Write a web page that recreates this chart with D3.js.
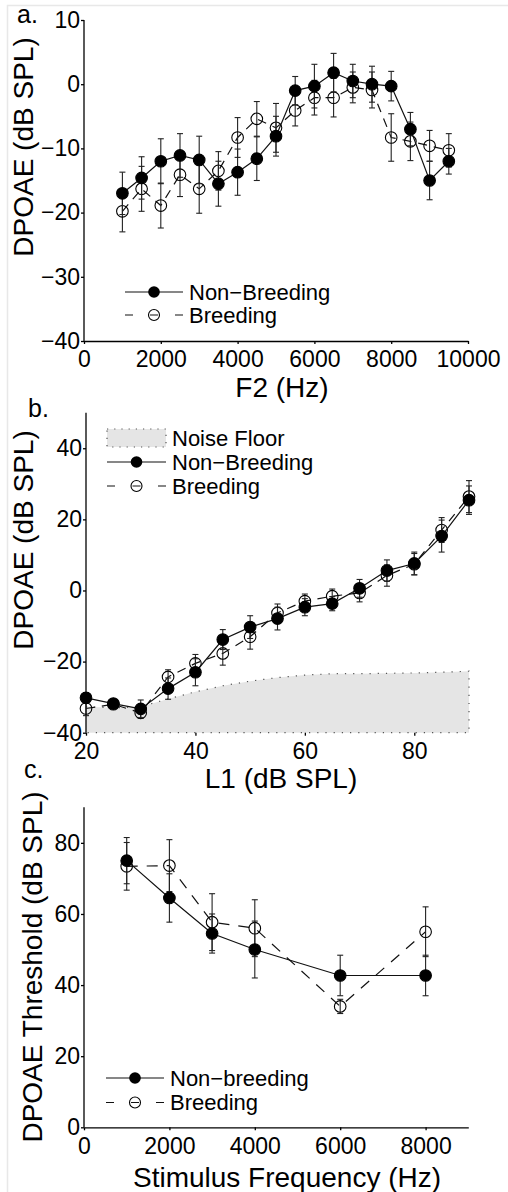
<!DOCTYPE html>
<html>
<head>
<meta charset="utf-8">
<script src="https://cdn.jsdelivr.net/npm/d3@7"></script>
<style>
  body { margin: 0; background: #fff; }
  svg { display: block; }
  text { font-family: "Liberation Sans", Arial, sans-serif; fill: #000; }
  .axis text { font-size: 23px; }
  .axis line, .axis path { stroke: #000; stroke-width: 1.3; }
</style>
</head>
<body>
<div id="chart"></div>
<script>
// ---- panel a: DPOAE vs F2 ----
const f2Hz = [1000, 1500, 2000, 2500, 3000, 3500, 4000, 4500, 5000, 5500, 6000, 6500, 7000, 7500, 8000, 8500, 9000, 9500];
const aNonBreed = [-17.0, -14.6, -12.0, -11.1, -11.8, -15.5, -13.7, -11.6, -8.1, -1.0, -0.3, 1.8, 0.5, 0.0, -0.3, -7.0, -15.0, -12.0];
const aNonBreedErr = [3.3, 3.3, 3.5, 3.4, 3.7, 3.5, 3.6, 3.4, 3.1, 2.2, 3.4, 3.0, 2.6, 2.8, 2.3, 2.6, 3.0, 2.0];
const aBreed = [-19.8, -16.3, -18.9, -14.1, -16.3, -13.5, -8.3, -5.4, -6.8, -4.1, -2.1, -2.1, -0.5, -0.9, -8.3, -8.9, -9.6, -10.3];
const aBreedErr = [3.2, 3.5, 3.5, 3.4, 3.8, 3.0, 3.1, 2.7, 3.8, 2.4, 2.7, 3.0, 2.4, 2.8, 3.7, 3.0, 2.4, 2.6];
const aXTicks = [0, 2000, 4000, 6000, 8000, 10000];
const aYTicks = [-40, -30, -20, -10, 0, 10];

// ---- panel b: DPOAE vs L1 ----
const l1 = [20, 25, 30, 35, 40, 45, 50, 55, 60, 65, 70, 75, 80, 85, 90];
const bNonBreed = [-30.2, -31.8, -33.3, -27.6, -23.0, -13.8, -10.3, -7.9, -4.7, -3.7, 0.6, 5.6, 7.6, 15.3, 25.4];
const bNonBreedErr = [1.5, 1.0, 2.5, 3.0, 3.8, 2.8, 3.2, 3.2, 2.4, 2.0, 2.5, 3.0, 3.2, 4.5, 4.0];
const bBreed = [-33.2, -32.0, -34.4, -24.3, -20.5, -17.7, -13.0, -6.3, -3.0, -1.6, -0.7, 4.2, 7.4, 17.0, 26.4];
const bBreedErr = [2.0, 1.0, 1.5, 2.0, 2.5, 3.3, 3.5, 2.5, 2.0, 2.0, 2.5, 3.0, 3.0, 3.5, 4.5];
const noiseFloor = [-32.7, -33.0, -32.7, -30.5, -28.5, -26.8, -25.5, -24.5, -23.8, -23.4, -23.4, -23.3, -23.2, -23.0, -22.7];
const bXTicks = [20, 40, 60, 80];
const bYTicks = [-40, -20, 0, 20, 40];

// ---- panel c: threshold vs stimulus frequency ----
const stimHz = [1000, 2000, 3000, 4000, 6000, 8000];
const cNonBreed = [75.0, 64.5, 54.5, 50.0, 42.7, 42.7];
const cNonBreedErr = [6.5, 6.8, 5.5, 8.0, 5.7, 5.7];
const cBreed = [73.4, 73.6, 57.7, 56.0, 34.0, 55.0];
const cBreedErr = [6.7, 7.3, 8.0, 8.0, 2.0, 7.0];
const cXTicks = [0, 2000, 4000, 6000, 8000];
const cYTicks = [0, 20, 40, 60, 80];

const W = 508, H = 1192;
const svg = d3.select("#chart").append("svg")
  .attr("width", W).attr("height", H);

svg.append("rect").attr("width", W).attr("height", H).attr("fill", "#fff");
// faint frame of the original scan
svg.append("path")
  .attr("d", "M7.5," + H + "V5.5H" + W)
  .attr("fill", "none").attr("stroke", "#e8e8e8").attr("stroke-width", 1.5);

const fmt = d3.format("d");

function zip(xs, ys, es) {
  return xs.map((x, i) => ({x: x, y: ys[i], e: es ? es[i] : 0}));
}

function drawPanel(p) {
  const g = svg.append("g");

  // noise floor (panel b only)
  if (p.noise) {
    const area = d3.area()
      .x(d => p.x(d.x)).y0(p.y(p.y.domain()[0])).y1(d => p.y(d.y));
    const pts = zip(p.noiseX, p.noise);
    g.append("path")
      .attr("d", area(pts))
      .attr("fill", "#e5e5e5");
    // dotted outline: top edge, right side, bottom
    const x0 = p.x(p.noiseX[0]);
    const yb = p.y(p.y.domain()[0]);
    g.append("path")
      .attr("d", d3.line().x(d => p.x(d.x)).y(d => p.y(d.y))(pts) + "V" + yb + "H" + x0)
      .attr("fill", "none").attr("stroke", "#555").attr("stroke-width", 1.2)
      .attr("stroke-dasharray", "1.2,7");
  }

  // axes
  const yAxis = g.append("g").attr("class", "axis")
    .attr("transform", "translate(" + p.x.range()[0] + ",0)")
    .call(d3.axisLeft(p.y).tickValues(p.yTicks).tickFormat(fmt)
      .tickSize(3).tickSizeOuter(0).tickPadding(1));
  yAxis.select(".domain").attr("d", "M0," + p.y.range()[0] + "V" + p.y.range()[1]);

  const xAxis = g.append("g").attr("class", "axis")
    .attr("transform", "translate(0," + p.y.range()[0] + ")")
    .call(d3.axisBottom(p.x).tickValues(p.xTicks).tickFormat(fmt)
      .tickSize(3).tickSizeOuter(0).tickPadding(7));
  if (p.noise) xAxis.select(".domain").remove();

  // axis titles
  g.append("text")
    .attr("x", p.xTitle.x).attr("y", p.xTitle.y)
    .attr("text-anchor", "middle").attr("font-size", 28)
    .text(p.xTitle.text);
  g.append("text")
    .attr("transform", "translate(" + p.yTitle.x + "," + p.yTitle.y + ") rotate(-90)")
    .attr("text-anchor", "middle").attr("font-size", 28)
    .text(p.yTitle.text);
  g.append("text")
    .attr("x", p.tag.x).attr("y", p.tag.y)
    .attr("font-size", 25)
    .text(p.tag.text);

  const line = d3.line().x(d => p.x(d.x)).y(d => p.y(d.y));

  // series: breeding (open, dashed) first, non-breeding (filled, solid) on top
  const series = [
    {data: zip(p.xs, p.breed, p.breedErr), dash: p.dash, fill: "none"},
    {data: zip(p.xs, p.nonBreed, p.nonBreedErr), dash: null, fill: "#000"}
  ];

  series.forEach(s => {
    g.append("path")
      .attr("d", line(s.data))
      .attr("fill", "none").attr("stroke", "#111").attr("stroke-width", 1.2)
      .attr("stroke-dasharray", s.dash);

    const eb = g.append("g").selectAll("g").data(s.data).enter().append("g")
      .attr("stroke", "#222").attr("stroke-width", 1.1);
    eb.append("line")
      .attr("x1", d => p.x(d.x)).attr("x2", d => p.x(d.x))
      .attr("y1", d => p.y(d.y - d.e)).attr("y2", d => p.y(d.y + d.e));
    [-1, 1].forEach(sign => {
      eb.append("line")
        .attr("x1", d => p.x(d.x) - 3).attr("x2", d => p.x(d.x) + 3)
        .attr("y1", d => p.y(d.y + sign * d.e)).attr("y2", d => p.y(d.y + sign * d.e));
    });

    g.append("g").selectAll("circle").data(s.data).enter().append("circle")
      .attr("cx", d => p.x(d.x)).attr("cy", d => p.y(d.y))
      .attr("r", 5.8)
      .attr("fill", s.fill)
      .attr("stroke", "#000").attr("stroke-width", 1.1);
  });

  // legend
  const lg = p.legend;
  const rows = [];
  if (p.noise) rows.push({kind: "noise", label: "Noise Floor"});
  rows.push({kind: "filled", label: lg.labels[0]});
  rows.push({kind: "open", label: lg.labels[1]});
  rows.forEach((r, i) => {
    const cy = lg.y + i * lg.step;
    const cx = (lg.x0 + lg.x1) / 2;
    if (r.kind === "noise") {
      g.append("rect")
        .attr("x", lg.x0).attr("y", cy - 9).attr("width", lg.x1 - lg.x0).attr("height", 18)
        .attr("fill", "#e5e5e5").attr("stroke", "#555").attr("stroke-width", 1.2)
        .attr("stroke-dasharray", "1.2,6");
    } else if (r.kind === "filled") {
      g.append("line").attr("x1", lg.x0).attr("x2", lg.x1).attr("y1", cy).attr("y2", cy)
        .attr("stroke", "#111").attr("stroke-width", 1.2);
      g.append("circle").attr("cx", cx).attr("cy", cy).attr("r", 5.8).attr("fill", "#000");
    } else {
      const len = lg.x1 - lg.x0, d = 8, gap = (len - 3 * d) / 2;
      g.append("line").attr("x1", lg.x0).attr("x2", lg.x1).attr("y1", cy).attr("y2", cy)
        .attr("stroke", "#111").attr("stroke-width", 1.2)
        .attr("stroke-dasharray", d + "," + gap);
      g.append("circle").attr("cx", cx).attr("cy", cy).attr("r", 5.5)
        .attr("fill", "none").attr("stroke", "#000").attr("stroke-width", 1.1);
    }
    g.append("text")
      .attr("x", lg.x1 + 6).attr("y", cy).attr("dy", "0.36em")
      .attr("font-size", 22)
      .text(r.label);
  });
}

drawPanel({
  x: d3.scaleLinear().domain([0, 10000]).range([84, 468]),
  y: d3.scaleLinear().domain([-40, 10]).range([341, 20]),
  xTicks: aXTicks, yTicks: aYTicks,
  xs: f2Hz, nonBreed: aNonBreed, nonBreedErr: aNonBreedErr, breed: aBreed, breedErr: aBreedErr,
  dash: "9,7",
  xTitle: {text: "F2 (Hz)", x: 282, y: 397},
  yTitle: {text: "DPOAE (dB SPL)", x: 33, y: 147},
  tag: {text: "a.", x: 17, y: 23},
  legend: {x0: 125, x1: 183, y: 292, step: 23, labels: ["Non\u2212Breeding", "Breeding"]}
});

drawPanel({
  x: d3.scaleLinear().domain([20, 90]).range([86, 469]),
  y: d3.scaleLinear().domain([-40, 50]).range([732.7, 412.7]),
  xTicks: bXTicks, yTicks: bYTicks,
  xs: l1, nonBreed: bNonBreed, nonBreedErr: bNonBreedErr, breed: bBreed, breedErr: bBreedErr,
  noiseX: l1, noise: noiseFloor,
  dash: "9,7",
  xTitle: {text: "L1 (dB SPL)", x: 281, y: 788},
  yTitle: {text: "DPOAE (dB SPL)", x: 33, y: 540},
  tag: {text: "b.", x: 28, y: 417},
  legend: {x0: 107, x1: 166, y: 438, step: 24, labels: ["Non\u2212Breeding", "Breeding"]}
});

drawPanel({
  x: d3.scaleLinear().domain([0, 9000]).range([84, 468.3]),
  y: d3.scaleLinear().domain([0, 90]).range([1127.3, 807.3]),
  xTicks: cXTicks, yTicks: cYTicks,
  xs: stimHz, nonBreed: cNonBreed, nonBreedErr: cNonBreedErr, breed: cBreed, breedErr: cBreedErr,
  dash: "11,9",
  xTitle: {text: "Stimulus Frequency (Hz)", x: 287, y: 1187},
  yTitle: {text: "DPOAE Threshold (dB SPL)", x: 42, y: 967},
  tag: {text: "c.", x: 24, y: 778},
  legend: {x0: 106, x1: 164, y: 1078, step: 24.5, labels: ["Non\u2212breeding", "Breeding"]}
});
</script>
</body>
</html>
